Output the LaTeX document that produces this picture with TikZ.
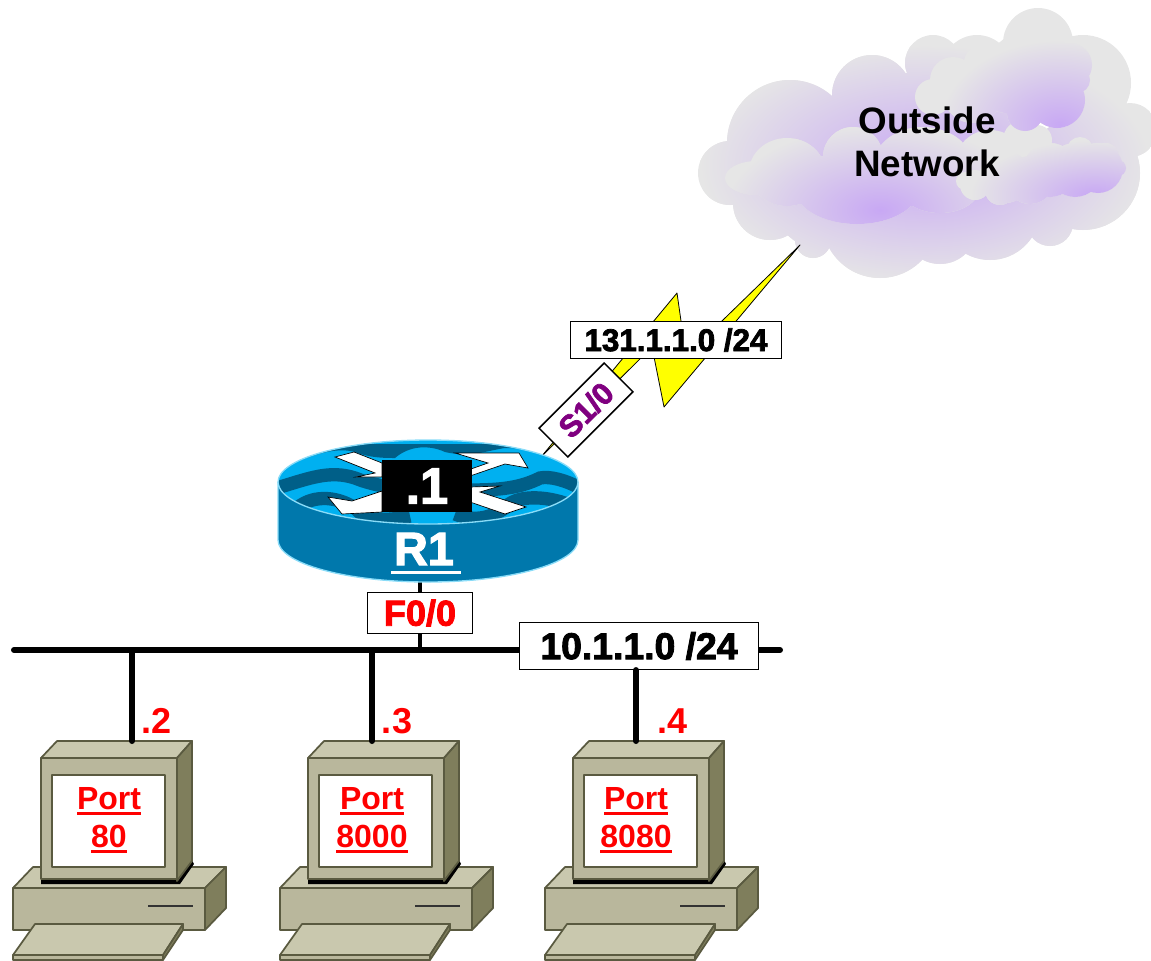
\documentclass[tikz,border=0pt]{standalone}
\usepackage{fontspec}
\setmainfont{Liberation Sans}
\newfontfamily\heavyfont[UprightFont=* Bold,FakeBold=2.4]{Liberation Sans}
\usetikzlibrary{positioning}

\definecolor{puffgray}{HTML}{E6E6E6}
\definecolor{puffmid}{HTML}{C8A8F4}
\definecolor{boltfill}{HTML}{FFFF00}
\definecolor{routertop}{HTML}{00B0F0}
\definecolor{routerside}{HTML}{0078AC}
\definecolor{routerwave}{HTML}{005F88}
\definecolor{routerrim}{HTML}{8ADCF8}
\definecolor{pctop}{HTML}{C9C8AE}
\definecolor{pcfront}{HTML}{B9B79C}
\definecolor{pcside}{HTML}{7F7E5C}
\definecolor{pcline}{HTML}{5A5A40}

% underlined label text
\newcommand{\ultext}[2]{\setbox0\hbox{#2}\leavevmode\rlap{\vrule width \wd0 height -#1 depth \dimexpr#1+2.2pt\relax}\box0}

% group of cloud lobes with a shade behind them
\newcommand{\puffs}[4]{
    \begin{scope}
        \clip foreach \x/\y/\r/\s in {#1} {(\x,\y) ellipse [x radius=\r, y radius=\s]};
        \fill[puffgray] (680,0) rectangle (1151,300);
        \shade[inner color=puffmid, outer color=puffgray] #2 ellipse [x radius=#3, y radius=#4];
    \end{scope}
}

\tikzset{
    tag/.style={draw=black, line width=1.1pt, fill=white, inner sep=0pt, text=black},
    bus/.style={line width=4.5pt, line cap=round},
    addr/.style={text=red, font=\fontsize{27}{32}\selectfont\bfseries, inner sep=0pt},
    port/.style={text=red, font=\fontsize{24}{28.5}\selectfont\bfseries, align=center, inner sep=0pt},
    pc/.pic={
        \begin{scope}[draw=pcline, line width=1.3pt, line join=round]
            % base
            \filldraw[fill=pctop] (13,888) -- (33,867) -- (226,867) -- (205,888) -- cycle;
            \filldraw[fill=pcfront] (13,888) rectangle (205,930);
            \filldraw[fill=pcside] (205,888) -- (226,867) -- (226,908) -- (205,930) -- cycle;
            \draw[line width=1.3pt, draw=black!80] (148,906) -- (193,906);
            % keyboard
            \filldraw[fill=pctop] (35,924) -- (183,924) -- (163,955) -- (13,955) -- cycle;
            \filldraw[fill=pcside] (183,924) -- (183,930) -- (163,960) -- (163,955) -- cycle;
            \filldraw[fill=pcfront] (13,955) rectangle (163,960);
            % monitor
            \fill[black] (41,878) -- (41,884) -- (180,884) -- (194,864) -- (192,860) -- cycle;
            \filldraw[fill=pctop] (41,758) -- (57,741) -- (192,741) -- (177,758) -- cycle;
            \filldraw[fill=pcside] (177,758) -- (192,741) -- (192,861) -- (177,881) -- cycle;
            \filldraw[fill=pcfront] (41,758) rectangle (177,879);
            \filldraw[fill=white, line width=1.8pt] (52,775) rectangle (165,867);
        \end{scope}
    }
}

\begin{document}
\begin{tikzpicture}[x=0.75pt, y=-0.75pt]
    \useasboundingbox (0,0) rectangle (1151,960);

    % cloud
    \puffs{730/173/32/32, 790/143/63/63, 872/95/40/40, 933/63/28/28, 977/70/35/35, 1038/43/35/35, 1083/83/48/48, 1130/130/27/27,
           1083/173/57/57, 1050/223/23/23, 990/210/50/50, 940/227/37/37, 880/220/58/58, 813/240/18/18, 770/203/37/37,
           930/160/90/90, 840/200/40/40, 810/215/30/30}{(925,165)}{225}{120}
    \puffs{787/172/38/34, 757/178/32/17, 853/157/30/30, 857/187/63/37, 940/187/40/26, 990/160/33/30, 1023/140/20/20,
           1037/140/15/15, 923/167/50/40}{(880,210)}{155}{85}
    \puffs{933/97/18/18, 953/80/23/23, 982/63/18/18, 1015/58/22/22, 1045/62/27/27, 1070/65/22/22, 1077/80/13/13, 1057/100/28/28,
           1025/113/18/18, 1060/107/20/20, 1007/83/30/30, 973/93/30/30}{(1060,125)}{120}{85}
    \puffs{1050/170/27/27, 1075/170/27/27, 1098/168/25/25, 1118/168/8/8, 1030/180/24/24, 1005/177/26/26, 975/185/15/15,
           965/181/9/9, 1000/190/15/15, 1080/150/13/13, 1047/155/12/12, 1105/157/14/14}{(1095,195)}{125}{55}
    \node (outside) [font=\fontsize{27.6}{32.5}\selectfont\bfseries, align=center, inner sep=0pt] at (927,142) {Outside\\Network};

    % serial link
    \coordinate (cloudtip) at (800,245);
    \coordinate (routertip) at (541,457);
    \filldraw[fill=boltfill, draw=black, line width=0.6pt, line join=round]
        (routertip) -- (677,293) -- (686,356) -- (cloudtip) -- (664,407) -- (652,347) -- cycle;

    % LAN
    \coordinate (lanleft) at (14,650);
    \coordinate (lanright) at (780,650);
    \coordinate (tapA) at (132,650);
    \coordinate (tapB) at (372,650);
    \coordinate (tapC) at (636,650);
    \coordinate (tapR) at (420,650);
    \coordinate (hostA) at (132,741);
    \coordinate (hostB) at (372,741);
    \coordinate (hostC) at (636,741);
    \coordinate (routerfoot) at (420,580);
    \draw[bus] (lanleft) -- (lanright);
    \draw[line width=3.4pt] (routerfoot) -- (tapR);

    % router
    \fill[routerside] (278,482) -- (278,540) arc [start angle=180, end angle=360, x radius=150, y radius=-42] -- (578,482) -- cycle;
    \draw[routerrim, line width=1pt] (278,482) -- (278,540) arc [start angle=180, end angle=360, x radius=150, y radius=-42] -- (578,482);
    \begin{scope}
        \clip (428,482) ellipse [x radius=150, y radius=42];
        \fill[routertop] (278,440) rectangle (578,525);
        \begin{scope}[routerwave, line width=10pt]
            \fill (278,470) .. controls (320,450) and (340,448) .. (355,452) .. controls (370,458) and (385,458) .. (395,458)
                .. controls (410,445) and (430,445) .. (445,452) .. controls (470,458) and (490,450) .. (505,448)
                .. controls (530,448) and (560,455) .. (578,470) -- (578,440) -- (278,440) -- cycle;
            \draw (280,487) .. controls (310,478) and (330,470) .. (355,478) .. controls (390,492) and (430,490) .. (470,490)
                .. controls (500,490) and (520,488) .. (540,478) .. controls (550,476) and (565,480) .. (580,488);
            \draw (295,510) .. controls (310,495) and (335,495) .. (355,508) .. controls (365,520) and (385,522) .. (410,516);
            \draw (455,514) .. controls (475,522) and (490,518) .. (505,508) .. controls (515,495) and (545,495) .. (570,505);
        \end{scope}
        \fill[routertop] (278,440) rectangle (578,444);
    \end{scope}
    \draw[routerrim, line width=1pt] (428,482) ellipse [x radius=150, y radius=42];
    % arrows on the router
    \filldraw[fill=white, draw=black, line width=0.5pt] (335,457) -- (354,452) -- (382,463) -- (382,477) -- (356,477) -- (375,473) -- cycle;
    \filldraw[fill=white, draw=black, line width=0.5pt] (455,453) -- (519,453) -- (528,468) -- (505,464) -- (470,476) -- (468,470) -- (488,463) -- cycle;
    \filldraw[fill=white, draw=black, line width=0.5pt] (328,497) -- (352,501) -- (382,491) -- (382,512) -- (342,514) -- cycle;
    \filldraw[fill=white, draw=black, line width=0.5pt] (526,507) -- (505,514) -- (470,502) -- (470,487) -- (500,486) -- (480,492) -- cycle;

    \node (dotone) [fill=black, text=white, minimum width=67.5pt, minimum height=39pt, inner sep=0pt, font=\fontsize{38}{38}\heavyfont] at (427,486) {.1};
    \node (rone) [text=white, inner sep=0pt, font=\fontsize{35}{35}\heavyfont] at (424,549) {R1};
    \fill[white] (391,570.5) rectangle (461,574);

    % labels
    \node (fzero) [tag, minimum width=78.5pt, minimum height=30.5pt, text=red, font=\fontsize{27}{27}\heavyfont] at (420,613) {F0/0};
    \node (szero) [tag, rotate=45, minimum width=69pt, minimum height=30.5pt, text={rgb,255:red,128;green,0;blue,128}, font=\fontsize{23}{23}\heavyfont] at (586,410) {S1/0};
    \node (wan) [tag, minimum width=158.5pt, minimum height=27.5pt, font=\fontsize{23.5}{23.5}\heavyfont] at (676,340) {131.1.1.0 /24};
    \node (lan) [tag, minimum width=179.5pt, minimum height=35pt, font=\fontsize{28}{28}\heavyfont] at (639,646) {10.1.1.0 /24};

    % hosts
    \pic (pcA) at (0,0) {pc};
    \pic (pcB) at (267,0) {pc};
    \pic (pcC) at (532,0) {pc};

    \node (portA) [port] at (109,820) {\ultext{2.2pt}{Port}\\\ultext{2.2pt}{80}};
    \node (portB) [port] at (372,820) {\ultext{2.2pt}{Port}\\\ultext{2.2pt}{8000}};
    \node (portC) [port] at (636,820) {\ultext{2.2pt}{Port}\\\ultext{2.2pt}{8080}};

    \node (ipA) [addr] at (157,721) {.2};
    \node (ipB) [addr] at (397,721) {.3};
    \node (ipC) [addr] at (672,721) {.4};

    % drops to the hosts
    \draw[bus] (tapA) -- (hostA);
    \draw[bus] (tapB) -- (hostB);
    \draw[bus] (lan.south -| tapC) -- (hostC);
\end{tikzpicture}
\end{document}
